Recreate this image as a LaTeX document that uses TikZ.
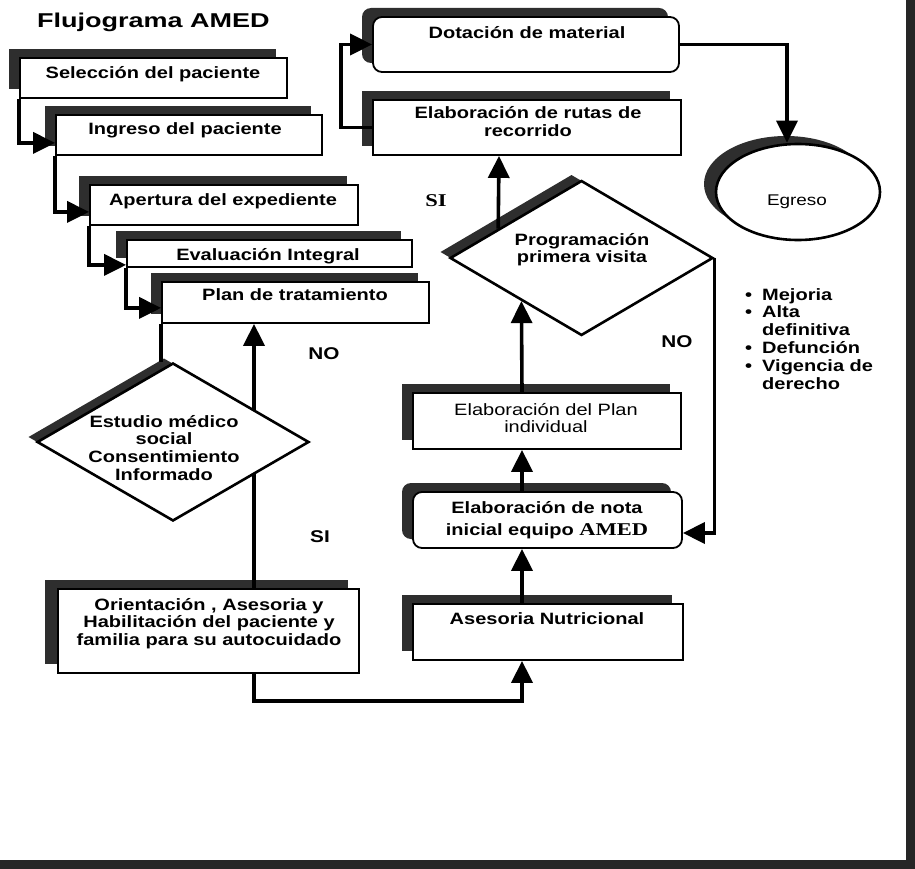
\documentclass[tikz,border=0pt]{standalone}
\usepackage{fontspec}
\setmainfont{Liberation Sans}[FakeStretch=1.22]
\newfontfamily\serifb{Liberation Serif}[FakeStretch=1.25]
\newfontfamily\titlefont{Liberation Sans}[FakeStretch=1.35]
\usetikzlibrary{shapes.geometric,arrows.meta,shadows,calc}
\newcommand\mlines[1]{\begin{tabular}[t]{@{}c@{}}#1\end{tabular}}
\tikzset{
  box/.style={draw=black, line width=1.8pt, fill=white, inner sep=0pt,
    drop shadow={shadow xshift=-11pt, shadow yshift=9pt, fill=black!82, opacity=1}},
  rbox/.style={box, rounded corners=9pt},
  dia/.style={diamond, draw=black, line width=2.6pt, fill=white, inner sep=0pt},
  conn/.style={line width=3.6pt, -{Triangle[length=22pt,width=21pt]}},
  plainline/.style={line width=3.6pt},
  lbl/.style={font=\fontsize{16.4}{17.8}\selectfont\bfseries, inner sep=0pt, anchor=base},
  lblr/.style={font=\fontsize{16.4}{17.2}\selectfont, inner sep=0pt, anchor=base},
}
\begin{document}
\begin{tikzpicture}[x=1pt,y=-1pt]
\useasboundingbox (0,0) rectangle (915,869);
% frame bands
\fill[black!85] (906,0) rectangle (915,869);
\fill[black!85] (0,860) rectangle (915,869);

% title
\node[inner sep=0pt, anchor=base west, font=\titlefont\fontsize{20}{23}\selectfont\bfseries] (title) at (37,28) {Flujograma AMED};

% left cascade boxes
\node[box, minimum width=267pt, minimum height=40pt] (b1) at (153.5,78) {};
\node[box, minimum width=266pt, minimum height=40pt] (b2) at (189,135) {};
\node[box, minimum width=268pt, minimum height=40pt] (b3) at (224,205) {};
\node[box, minimum width=285pt, minimum height=27pt] (b4) at (269.5,253.5) {};
\node[box, minimum width=267pt, minimum height=41pt] (b5) at (295.5,302.5) {};
\node[lbl] (t1) at (153,78.5) {Selección del paciente};
\node[lbl] (t2) at (185,135) {Ingreso del paciente};
\node[lbl] (t3) at (223,205) {Apertura del expediente};
\node[lbl] (t4) at (268,260) {Evaluación Integral};
\node[lbl] (t5) at (295,300) {Plan de tratamiento};

\draw[conn] (b1.south west) |- ([yshift=13pt]b2.south west);
\draw[conn] (b2.south west) |- ([yshift=14pt]b3.south west);
\draw[conn] (b3.south west) |- ([yshift=3pt]b4.south west);
\draw[conn] (b4.south west) |- ([yshift=16pt]b5.south west);

% orientation box
\node[box, minimum width=301pt, minimum height=84pt, drop shadow={shadow xshift=-13pt, shadow yshift=9pt, fill=black!82, opacity=1}] (ori) at (208.5,631) {};
\node[lbl] (tori) at (209,610) {\mlines{Orientación , Asesoria y\\Habilitación del paciente y\\familia para su autocuidado}};

\coordinate (xL) at (254,0);
\coordinate (xA) at (522,0);
\coordinate (xB) at (499,0);

\draw[conn] (ori.north -| xL) -- (b5.south -| xL);

% first decision
\node[dia, minimum width=272pt, minimum height=158pt,
  drop shadow={shadow xshift=-9pt, shadow yshift=5pt, fill=black!82, opacity=1}] (d1) at (173,442) {};
\draw[plainline] (b5.south west) -- (b5.south west |- d1.north);
\node[lbl] (td1) at (164,427) {\mlines{Estudio médico\\social\\Consentimiento\\Informado}};

\node[lbl, font=\fontsize{17}{20}\selectfont\bfseries] (no1) at (324,359) {NO};
\node[lbl, font=\fontsize{17}{20}\selectfont\bfseries] (si1) at (320,542) {SI};

% right column
\node[rbox, minimum width=306pt, minimum height=55pt] (dot) at (526,44.5) {};
\node[box, minimum width=308pt, minimum height=55pt] (rut) at (527,127.5) {};
\node[dia, minimum width=263pt, minimum height=155pt,
  drop shadow={shadow xshift=-10pt, shadow yshift=6pt, fill=black!82, opacity=1}] (d2) at (581.5,258) {};
\node[box, minimum width=268pt, minimum height=56pt] (pin) at (547,421) {};
\node[rbox, minimum width=269pt, minimum height=56pt] (nota) at (547.5,520) {};
\node[box, minimum width=270pt, minimum height=56pt] (nut) at (548,632) {};

\node[lbl] (tdot) at (527,39) {Dotación de material};
\node[lbl] (trut) at (528,119) {\mlines{Elaboración de rutas de\\recorrido}};
\node[lbl] (td2) at (582,245) {\mlines{Programación\\primera visita}};
\node[lblr] (tpin) at (546,415) {\mlines{Elaboración del Plan\\individual}};
\node[lbl] (tnota) at (547,513) {\mlines{Elaboración de nota\\[5pt]inicial equipo {\serifb\fontsize{18}{20}\selectfont AMED}}};
\node[lbl] (tnut) at (547,624) {Asesoria Nutricional};

\node[lbl, font=\serifb\fontsize{18}{20}\selectfont\bfseries] (si2) at (436,207) {SI};
\node[lbl, font=\fontsize{17}{20}\selectfont\bfseries] (no2) at (677,347) {NO};

% exit
\node[ellipse, draw=black, line width=2.6pt, fill=white, inner sep=0pt,
  minimum width=164pt, minimum height=96pt,
  drop shadow={shadow xshift=-12pt, shadow yshift=8pt, fill=black!82, opacity=1}] (e) at (798,192) {};
\node[lblr, font=\fontsize{15.5}{17}\selectfont] (te) at (797,205) {Egreso};

% list
\node[inner sep=0pt, anchor=base west, font=\fontsize{16.4}{17.8}\selectfont\bfseries] (lst) at (745,300)
 {\begin{tabular}[t]{@{}l@{\hspace{10pt}}l@{}}
 • & Mejoria\\
 • & Alta\\
   & definitiva\\
 • & Defunción\\
 • & Vigencia de\\
   & derecho
 \end{tabular}};

% connectors right
\draw[conn] (ori.south -| xL) -- ++(0,27) -| (nut.south -| xA);
\draw[conn] (nut.north -| xA) -- (nota.south -| xA);
\draw[conn] (nota.north -| xA) -- (pin.south -| xA);
\draw[conn] (pin.north -| xA) -- ($(d2.west)!0.5475!(d2.south)$);
\draw[conn] ($(d2.west)!0.3726!(d2.north)$) -- (rut.south -| xB);
\draw[conn] (d2.east) |- ([yshift=-13pt]nota.east);
\draw[conn] (rut.west) -- ++(-31,0) |- (dot.west);
\draw[conn] (dot.east) -| ([xshift=-11pt]e.north);
\end{tikzpicture}
\end{document}
